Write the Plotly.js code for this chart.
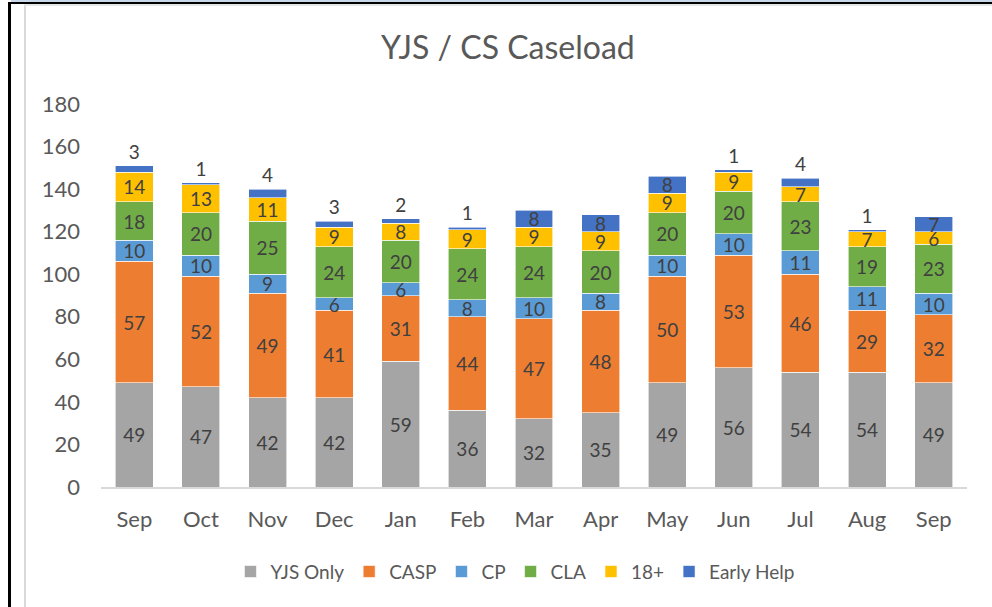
<!DOCTYPE html>
<html>
<head>
<meta charset="utf-8">
<script src="https://cdn.plot.ly/plotly-3.0.1.min.js"></script>
<style>
  html, body { margin: 0; padding: 0; background: #ffffff; }
  #wrap { position: relative; width: 992px; height: 607px; overflow: hidden; }
  #chart { position: absolute; left: 0; top: 0; width: 992px; height: 607px; }
  .ov { position: absolute; pointer-events: none; }
</style>
</head>
<body>
<div id="wrap">
  <div id="chart"></div>
  <div class="ov" style="left:11px;top:0;width:981px;height:2px;background:#c9d7ea;"></div>
  <div class="ov" style="left:8px;top:2px;width:984px;height:2px;background:#000;"></div>
  <div class="ov" style="left:8px;top:2px;width:3px;height:605px;background:#000;"></div>
  <div class="ov" style="left:24px;top:4px;width:2px;height:603px;background:#d9d9d9;"></div>
  <div class="ov" style="left:24px;top:4px;width:968px;height:2px;background:#e6e6e6;"></div>
</div>
<script>
const months = ["Sep","Oct","Nov","Dec","Jan","Feb","Mar","Apr","May","Jun","Jul","Aug","Sep"];
const yjsOnly   = [49,47,42,42,59,36,32,35,49,56,54,54,49];
const casp      = [57,52,49,41,31,44,47,48,50,53,46,29,32];
const cp        = [10,10,9,6,6,8,10,8,10,10,11,11,10];
const cla       = [18,20,25,24,20,24,24,20,20,20,23,19,23];
const over18    = [14,13,11,9,8,9,9,9,9,9,7,7,6];
const earlyHelp = [3,1,4,3,2,1,8,8,8,1,4,1,7];

const seriesNames = ["YJS Only","CASP","CP","CLA","18+","Early Help"];
const seriesData = [yjsOnly, casp, cp, cla, over18, earlyHelp];
const seriesColors = ["#A5A5A5","#ED7D31","#5B9BD5","#70AD47","#FFC000","#4472C4"];

const idx = months.map((m, i) => i);
const FONT = "Lato, 'Open Sans', sans-serif";

const traces = seriesData.map((vals, s) => {
  const isTop = s === seriesData.length - 1;
  return {
    type: 'bar',
    name: seriesNames[s],
    x: idx,
    y: vals,
    text: vals.map(String),
    textposition: isTop ? vals.map(v => v < 5 ? 'outside' : 'inside') : 'inside',
    textangle: 0,
    insidetextanchor: 'middle',
    constraintext: 'none',
    cliponaxis: false,
    textfont: { family: FONT, size: 19, color: '#404040' },
    insidetextfont: { family: FONT, size: 19, color: '#404040' },
    outsidetextfont: { family: FONT, size: 19, color: '#404040' },
    marker: { color: seriesColors[s], line: { color: '#ffffff', width: 0.6 } },
    hoverinfo: 'skip'
  };
});

const layout = {
  width: 992,
  height: 607,
  margin: { l: 101, r: 25, t: 104, b: 120 },
  paper_bgcolor: '#ffffff',
  plot_bgcolor: '#ffffff',
  barmode: 'stack',
  bargap: 0.43,
  showlegend: true,
  title: {
    text: 'YJS / CS Caseload',
    font: { family: FONT, size: 32, color: '#595959' },
    xref: 'container', x: 0.512, xanchor: 'center',
    yref: 'container', y: 0.921, yanchor: 'middle'
  },
  xaxis: {
    tickmode: 'array',
    tickvals: idx,
    ticktext: months,
    range: [-0.5, 12.5],
    showgrid: false,
    zeroline: false,
    showline: true,
    linecolor: '#D9D9D9',
    linewidth: 1.5,
    ticks: '',
    ticklabelstandoff: 12,
    tickfont: { family: FONT, size: 22, color: '#595959' },
    fixedrange: true
  },
  yaxis: {
    range: [0, 180],
    dtick: 20,
    tick0: 0,
    showgrid: false,
    zeroline: false,
    showline: false,
    ticks: '',
    ticklabelstandoff: 20,
    tickfont: { family: FONT, size: 22, color: '#595959' },
    fixedrange: true
  },
  legend: {
    orientation: 'h',
    x: 0.478, xanchor: 'center',
    y: -0.221, yanchor: 'middle',
    traceorder: 'normal',
    font: { family: FONT, size: 19, color: '#595959' },
    itemwidth: 30
  }
};

Plotly.newPlot('chart', traces, layout, { displayModeBar: false, staticPlot: true });
</script>
</body>
</html>
